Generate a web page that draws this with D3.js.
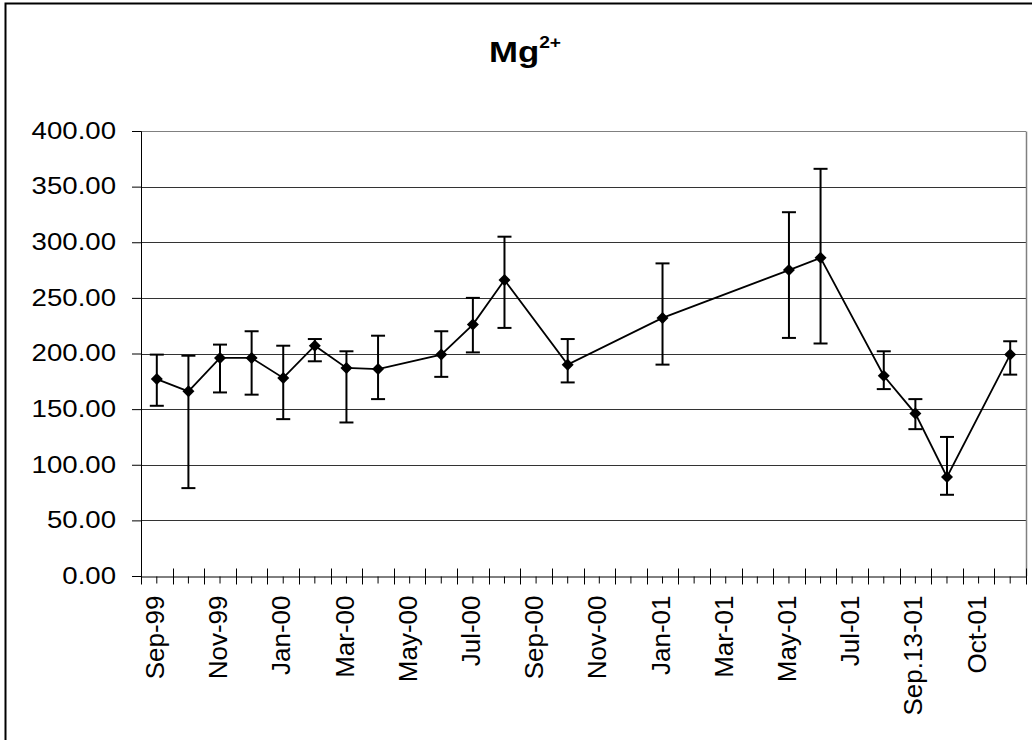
<!DOCTYPE html>
<html>
<head>
<meta charset="utf-8">
<script src="https://cdn.jsdelivr.net/npm/d3@7"></script>
<style>
	body { margin: 0; background: #fff; }
	text { font-family: "Liberation Sans", Arial, sans-serif; fill: #000; }
</style>
</head>
<body>
<div id="chart-area"></div>
<script>
// sampling dates (one category each), every 2nd one is labelled
const months = ["Sep-99", "Oct-99", "Nov-99", "Dec-99", "Jan-00", "Feb-00", "Mar-00", "Apr-00",
	"May-00", "Jun-00", "Jul-00", "Aug-00", "Sep-00", "Oct-00", "Nov-00", "Dec-00",
	"Jan-01", "Feb-01", "Mar-01", "Apr-01", "May-01", "Jun-01", "Jul-01", "Aug-01",
	"Sep.13-01", "Sep.27-01", "Oct-01", "Nov-01"];
const mg = [177, 166, 196, 196, 178, 207, 187, 186, null, 199, 226, 266, null, 190, null, null,
	232, null, null, null, 275, 286, null, 180, 146, 89, null, 199];
const mgHigh = [199, 198, 208, 220, 207, 213, 202, 216, null, 220, 250, 305, null, 213, null, null,
	281, null, null, null, 327, 366, null, 202, 159, 125, null, 211];
const mgLow = [153, 79, 165, 163, 141, 193, 138, 159, null, 179, 201, 223, null, 174, null, null,
	190, null, null, null, 214, 209, null, 168, 132, 73, null, 181];
const yTicks = [0, 50, 100, 150, 200, 250, 300, 350, 400];

const width = 1032;
const height = 740;
const margin = {top: 131, right: 6, bottom: 164, left: 141};

var svg = d3.select("#chart-area").append("svg")
	.attr("width", width)
	.attr("height", height);

// chart border
svg.append("rect")
	.attr("x", 5.5).attr("y", 3.5)
	.attr("width", width + 20).attr("height", height + 20)
	.attr("fill", "none").attr("stroke", "#000").attr("stroke-width", 2);

var data = months.map((m, i) => ({month: m, v: mg[i], hi: mgHigh[i], lo: mgLow[i]}))
	.filter(d => d.v != null);

var x = d3.scaleBand()
	.domain(months)
	.range([margin.left, width - margin.right]);

var xEdge = d3.scaleLinear()
	.domain([0, months.length])
	.range(x.range());

var y = d3.scaleLinear()
	.domain([0, 400])
	.range([height - margin.bottom, margin.top]);

var cx = d => x(d.month) + x.bandwidth() / 2;

// gridlines
svg.append("g")
	.selectAll("line")
	.data(yTicks.slice(1))
	.enter().append("line")
	.attr("x1", margin.left).attr("x2", width - margin.right)
	.attr("y1", d => Math.round(y(d)) + 0.5).attr("y2", d => Math.round(y(d)) + 0.5)
	.attr("stroke", d => d == 400 ? "#808080" : "#333")
	.attr("stroke-width", 1);

// right plot border
svg.append("line")
	.attr("x1", width - margin.right + 0.5).attr("x2", width - margin.right + 0.5)
	.attr("y1", Math.round(y(400)) + 0.5).attr("y2", y(0))
	.attr("stroke", "#808080").attr("stroke-width", 1.5);

// y axis
var yAxis = svg.append("g")
	.attr("transform", `translate(${margin.left},0)`)
	.call(d3.axisLeft(y).tickValues(yTicks).tickSize(9).tickFormat(d3.format(".2f")));
yAxis.select(".domain").attr("stroke", "#000");
yAxis.selectAll("text")
	.attr("x", 0)
	.attr("font-size", 23)
	.attr("transform", "translate(-25,0) scale(1.2,1)");

// x axis: labels at category centres, short ticks outside
var xAxis = svg.append("g")
	.attr("transform", `translate(0,${Math.round(y(0)) + 0.5})`)
	.call(d3.axisBottom(x).tickSize(7).tickSizeOuter(0)
		.tickFormat((d, i) => i % 2 == 0 ? d : ""));
xAxis.select(".domain").attr("stroke", "#000");
xAxis.selectAll("text")
	.attr("font-size", 26)
	.attr("text-anchor", "end")
	.attr("x", 0).attr("y", 0)
	.attr("dy", "0.35em")
	.attr("transform", "translate(-2,19) rotate(-90)");

// long crossing ticks at category edges
xAxis.append("g")
	.selectAll("line")
	.data(d3.range(months.length + 1))
	.enter().append("line")
	.attr("x1", d => Math.round(xEdge(d)) + 0.5).attr("x2", d => Math.round(xEdge(d)) + 0.5)
	.attr("y1", -8).attr("y2", 8)
	.attr("stroke", "#000");

// error bars
var bars = svg.append("g")
	.selectAll("g")
	.data(data)
	.enter().append("g");

bars.append("line")
	.attr("x1", cx).attr("x2", cx)
	.attr("y1", d => y(d.hi)).attr("y2", d => y(d.lo))
	.attr("stroke", "#000").attr("stroke-width", 2);

bars.append("line")
	.attr("x1", d => cx(d) - 7).attr("x2", d => cx(d) + 7)
	.attr("y1", d => y(d.hi)).attr("y2", d => y(d.hi))
	.attr("stroke", "#000").attr("stroke-width", 2);

bars.append("line")
	.attr("x1", d => cx(d) - 7).attr("x2", d => cx(d) + 7)
	.attr("y1", d => y(d.lo)).attr("y2", d => y(d.lo))
	.attr("stroke", "#000").attr("stroke-width", 2);

// series line
var line = d3.line()
	.x(cx)
	.y(d => y(d.v));

svg.append("path")
	.datum(data)
	.attr("fill", "none")
	.attr("stroke", "#000")
	.attr("stroke-width", 1.8)
	.attr("d", line);

// diamond markers
svg.selectAll(".dot")
	.data(data)
	.enter().append("path")
	.attr("class", "dot")
	.attr("d", "M0,-6L6,0L0,6L-6,0Z")
	.attr("transform", d => `translate(${cx(d)},${y(d.v)})`)
	.attr("fill", "#000");

// title
var title = svg.append("text")
	.attr("text-anchor", "middle")
	.attr("font-weight", "bold")
	.attr("transform", "translate(525,62) scale(1.2,1)");
title.append("tspan").attr("font-size", 29).text("Mg");
title.append("tspan").attr("font-size", 16).attr("dy", -14).text("2+");
</script>
</body>
</html>
